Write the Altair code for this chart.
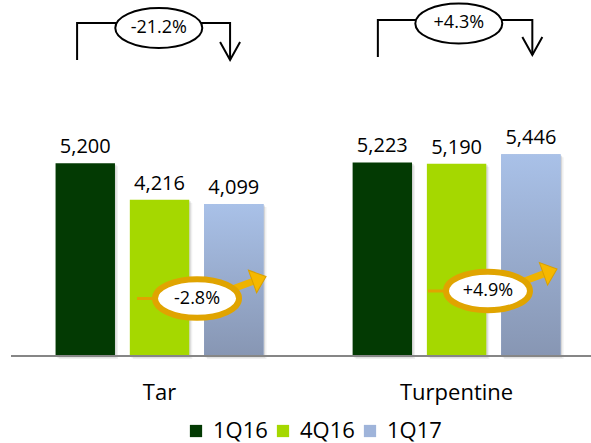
import altair as alt
import pandas as pd

# Production volumes by product and quarter
categories = ["Tar", "Turpentine"]
periods = ["1Q16", "4Q16", "1Q17"]
tar = [5200, 4216, 4099]
turpentine = [5223, 5190, 5446]

colors = ["#033a03", "#a5d800", "#9fb4da"]
FONT = "Open Sans"

# Year-on-year brackets above each group (chart data units)
bracket_left = [-0.11, 3.94]
bracket_right = [1.95, 6.02]
bracket_top = [8985, 9066]
bracket_left_end = [7987, 8068]
bracket_tip = [7987, 8122]
badge_x = [0.99, 5.03]
badge_y = [8850, 8972]

# Quarter-on-quarter callouts inside each group
callout_x = [1.505, 5.423]
callout_y = [1551, 1754]
callout_start = [0.697, 4.615]

series = [tar, turpentine]

rows = []
for g, (cat, vals) in enumerate(zip(categories, series)):
    for i, (p, v) in enumerate(zip(periods, vals)):
        pos = g * 4 + i
        rows.append(dict(category=cat, period=p, value=v, zero=0,
                         x0=pos - 0.4, x1=pos + 0.4, pos=pos, label=f"{v:,}"))
bars = pd.DataFrame(rows)

cats = pd.DataFrame({"category": categories,
                     "x": [g * 4 + 1 for g in range(len(categories))],
                     "y": [-1187] * len(categories)})

line_rows = []
for k, cat in enumerate(categories):
    pts = [(bracket_left[k], bracket_left_end[k]),
           (bracket_left[k], bracket_top[k]),
           (bracket_right[k], bracket_top[k]),
           (bracket_right[k], bracket_tip[k])]
    for j, (x, y) in enumerate(pts):
        line_rows.append(dict(category=cat, step=j, x=x, y=y))
bracket_lines = pd.DataFrame(line_rows)

tips = pd.DataFrame({"x": bracket_right, "y": bracket_tip})

yoy = [f"{(v[2] - v[0]) / v[0] * 100:+.1f}%" for v in series]
qoq = [f"{(v[2] - v[1]) / v[1] * 100:+.1f}%" for v in series]
badges = pd.DataFrame({"x": badge_x, "y": badge_y, "text": yoy})
callouts = pd.DataFrame({"x": callout_x, "x0": callout_start,
                         "y": callout_y, "text": qoq})
axis_line = pd.DataFrame({"x": [-1.0], "x2": [6.81], "y": [0]})

xs = alt.Scale(domain=[-1, 6.81], nice=False, zero=False)
ys = alt.Scale(domain=[-2348, 9606], nice=False, zero=False)


def X(f):
    return alt.X(f, type="quantitative", scale=xs, axis=None)


def Y(f):
    return alt.Y(f, type="quantitative", scale=ys, axis=None)


ellipse_gold = "M-1,0 A1,0.46 0 1,1 1,0 A1,0.46 0 1,1 -1,0 Z"
ellipse_black = "M-1,0 A1,0.46 0 1,1 1,0 A1,0.46 0 1,1 -1,0 Z"
open_head = "M-1,-1.8 L0,0 L1,-1.8"
gold_head = "M0,0 L-1.2,-1 L-1.2,1 Z"

base = alt.Chart(bars)

shadow1 = base.mark_bar(color="#808080", opacity=0.22, xOffset=1.5, x2Offset=1.5,
                        yOffset=1.5, y2Offset=1.5).encode(
    x=X("x0"), x2="x1", y=Y("value"), y2="zero")
shadow2 = base.mark_bar(color="#808080", opacity=0.12, xOffset=3, x2Offset=3,
                        yOffset=3, y2Offset=3).encode(
    x=X("x0"), x2="x1", y=Y("value"), y2="zero")

main_bars = base.mark_bar(opacity=1).encode(
    x=X("x0"), x2="x1", y=Y("value"), y2="zero",
    color=alt.Color("period:N", sort=periods,
                    scale=alt.Scale(domain=periods, range=colors),
                    legend=alt.Legend(title=None, orient="none", legendX=174, legendY=420,
                                      direction="horizontal", symbolType="square",
                                      symbolSize=150, symbolStrokeWidth=0,
                                      symbolOpacity=1, labelFont=FONT,
                                      labelFontSize=22, labelColor="black",
                                      labelOffset=6, columnPadding=4, padding=0)))

gradient = alt.LinearGradient(
    gradient="linear", x1=0, x2=0, y1=0, y2=1,
    stops=[alt.GradientStop(color="#a9c1e8", offset=0),
           alt.GradientStop(color="#8796b3", offset=1)])
grad_bars = base.transform_filter(alt.datum.period == "1Q17").mark_bar(
    color=gradient, opacity=1).encode(x=X("x0"), x2="x1", y=Y("value"), y2="zero")

baseline = alt.Chart(axis_line).mark_rule(color="#868686", strokeWidth=2).encode(
    x=X("x"), x2="x2", y=Y("y"))

value_labels = base.mark_text(font=FONT, fontSize=20, baseline="alphabetic",
                              dy=-10, color="black").encode(
    x=X("pos"), y=Y("value"), text="label")

cat_labels = alt.Chart(cats).mark_text(font=FONT, fontSize=22, baseline="alphabetic",
                                       color="black").encode(
    x=X("x"), y=Y("y"), text="category")

bracket = alt.Chart(bracket_lines).mark_line(color="black", strokeWidth=2).encode(
    x=X("x"), y=Y("y"), detail="category", order="step")

bracket_heads = alt.Chart(tips).mark_point(
    shape=open_head, size=400, filled=False, stroke="black", strokeWidth=2,
    opacity=1).encode(x=X("x"), y=Y("y"))

badge_shape = alt.Chart(badges).mark_point(
    shape=ellipse_black, size=87 * 87, filled=True, fill="white", stroke="black",
    strokeWidth=2, opacity=1).encode(x=X("x"), y=Y("y"))

badge_text = alt.Chart(badges).mark_text(font=FONT, fontSize=18, color="black",
                                         baseline="middle").encode(
    x=X("x"), y=Y("y"), text="text")

gold = "#e0a400"
callout_line = alt.Chart(callouts).mark_rule(color=gold, strokeWidth=3).encode(
    x=X("x0"), x2="x", y=Y("y"))

callout_shaft = alt.Chart(callouts).mark_rule(
    color="#efb300", strokeWidth=7, xOffset=34, yOffset=-9,
    x2Offset=57, y2Offset=-17.6).encode(x=X("x"), x2="x", y=Y("y"), y2="y")

callout_head = alt.Chart(callouts).mark_point(
    shape=gold_head, size=576, angle=340, filled=True, fill="#f6b800",
    stroke="#d9a000", strokeWidth=1, opacity=1, xOffset=69, yOffset=-22).encode(
    x=X("x"), y=Y("y"))

callout_shape = alt.Chart(callouts).mark_point(
    shape=ellipse_gold, size=84 * 84, filled=True, fill="white", stroke=gold,
    strokeWidth=6, opacity=1).encode(x=X("x"), y=Y("y"))

callout_text = alt.Chart(callouts).mark_text(font=FONT, fontSize=18, color="black",
                                             baseline="middle").encode(
    x=X("x"), y=Y("y"), text="text")

chart = alt.layer(
    shadow2, shadow1, main_bars, grad_bars, baseline, value_labels, cat_labels,
    bracket, bracket_heads, badge_shape, badge_text,
    callout_line, callout_shaft, callout_head, callout_shape, callout_text,
).properties(
    width=580, height=443,
    padding={"left": 11, "top": 0, "right": 0, "bottom": 0},
    autosize=alt.AutoSizeParams(type="none"),
    background="white",
).configure_view(stroke=None)

chart.save("out.html", embed_options={"renderer": "svg", "actions": False})
